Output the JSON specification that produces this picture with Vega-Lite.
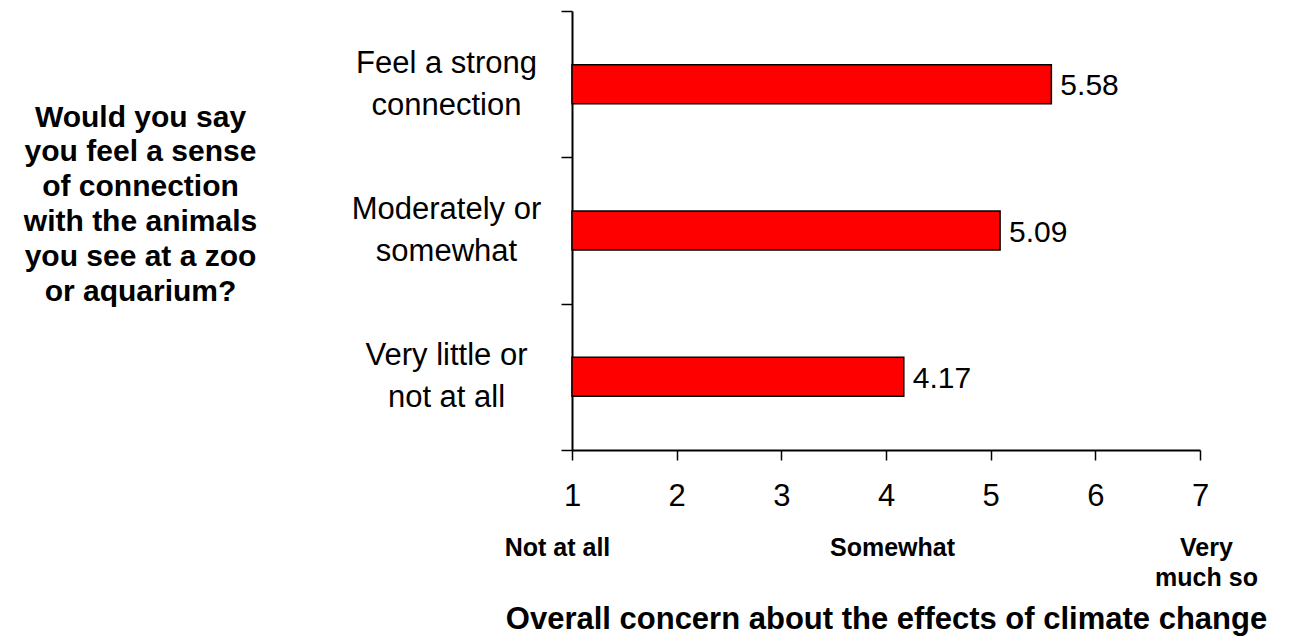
{
  "$schema": "https://vega.github.io/schema/vega-lite/v6.json",
  "width": 628,
  "height": 439,
  "autosize": {"type": "none"},
  "padding": {"left": 572, "top": 11, "right": 89, "bottom": 190},
  "background": "white",
  "config": {
    "view": {"stroke": null},
    "font": "Liberation Sans",
    "axis": {"labelFont": "Liberation Sans", "titleFont": "Liberation Sans", "labelColor": "black", "titleColor": "black", "domainColor": "black", "tickColor": "black", "grid": false}
  },
  "data": {
    "values": [
      {"group": "Feel a strong|connection", "concern": 5.58},
      {"group": "Moderately or|somewhat", "concern": 5.09},
      {"group": "Very little or|not at all", "concern": 4.17}
    ]
  },
  "encoding": {
    "y": {
      "field": "group",
      "type": "nominal",
      "sort": null,
      "scale": {"paddingInner": 0, "paddingOuter": 0},
      "axis": {
        "orient": "left",
        "tickBand": "extent",
        "tickSize": 11,
        "tickWidth": 1.5,
        "domainWidth": 2,
        "labelExpr": "split(datum.label, '|')",
        "labelFontSize": 31,
        "labelLineHeight": 42,
        "labelAlign": "center",
        "labelBaseline": "middle",
        "labelOffset": -21,
        "labelPadding": 115,
        "labelLimit": 400,
        "title": ["Would you say", "you feel a sense", "of connection", "with the animals", "you see at a zoo", "or aquarium?"],
        "titleAngle": 0,
        "titleAlign": "center",
        "titleBaseline": "alphabetic",
        "titleX": -432,
        "titleY": 115,
        "titleFontSize": 30,
        "titleFontWeight": "bold",
        "titleLineHeight": 34.8,
        "titleLimit": 1000
      }
    }
  },
  "layer": [
    {
      "mark": {"type": "bar", "color": "#ff0000", "stroke": "black", "strokeWidth": 1.5, "height": {"band": 0.267}},
      "encoding": {
        "x": {
          "field": "concern",
          "type": "quantitative",
          "scale": {"domain": [1, 7], "zero": false, "nice": false},
          "axis": {
            "values": [1, 2, 3, 4, 5, 6, 7],
            "tickSize": 10,
            "tickWidth": 1.5,
            "domainWidth": 2,
            "labelFontSize": 31,
            "labelPadding": 21,
            "labelFlush": false,
            "labelOverlap": false,
            "title": null
          }
        },
        "x2": {"datum": 1}
      }
    },
    {
      "mark": {"type": "text", "align": "left", "baseline": "middle", "dx": 9, "dy": 2, "fontSize": 30, "color": "black"},
      "encoding": {
        "x": {
          "field": "concern",
          "type": "quantitative",
          "scale": {"domain": [1, 7], "zero": false, "nice": false},
          "axis": {
            "orient": "bottom",
            "values": [1, 4, 7],
            "domain": false,
            "ticks": false,
            "tickSize": 0,
            "labelExpr": "datum.value == 1 ? 'Not at all' : datum.value == 4 ? 'Somewhat' : ['Very', 'much so']",
            "labelFontSize": 25,
            "labelFontWeight": "bold",
            "labelLineHeight": 30,
            "labelPadding": 85,
            "labelFlush": false,
            "labelOverlap": false,
            "labelOffset": {"condition": {"test": "datum.value == 1", "value": -15}, "value": 6},
            "title": "Overall concern about the effects of climate change",
            "titleFontSize": 31,
            "titleFontWeight": "bold",
            "titleBaseline": "alphabetic",
            "titleY": 178,
            "titleLimit": 2000
          }
        },
        "text": {"field": "concern", "type": "quantitative", "format": ".2f"}
      }
    }
  ],
  "resolve": {"scale": {"x": "independent"}, "axis": {"x": "independent"}}
}
